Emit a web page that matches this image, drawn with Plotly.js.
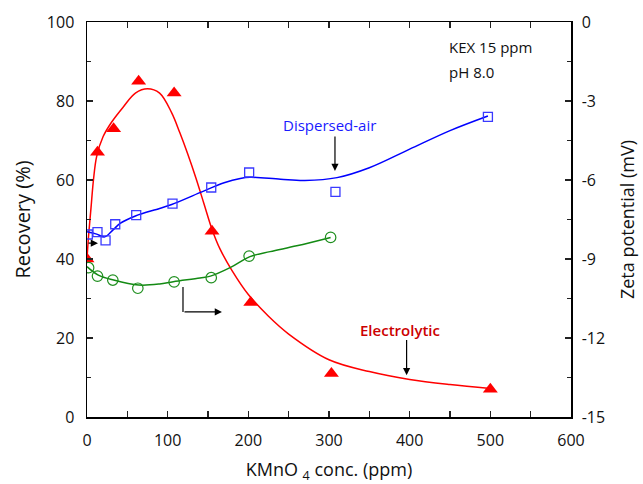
<!DOCTYPE html>
<html><head><meta charset="utf-8">
<script src="https://cdn.plot.ly/plotly-3.0.1.min.js"></script>
<style>html,body{margin:0;padding:0;background:#fff}#chart{width:643px;height:484px}</style>
</head><body><div id="chart"></div>
<script>
// Recovery (%) measured points
const elecX = [0, 13, 33, 64, 108, 155, 203, 303, 500];
const elecY = [40, 67, 73, 85, 82, 47, 29, 11, 7];
const dispX = [1, 13, 23, 35, 61, 106, 154, 201, 308, 497];
const dispY = [46.2, 46.8, 44.7, 48.8, 51.1, 54, 58.1, 61.9, 57, 76];
// Zeta potential (mV) measured points
const zetaX = [2, 13, 32, 63, 108, 154, 201, 302];
const zetaY = [-9.33, -9.65, -9.8, -10.11, -9.87, -9.71, -8.89, -8.18];
// fitted curves
const elecFitX = [0, 2, 5, 8, 12, 20, 30, 45, 60, 75, 90, 105, 115, 125, 135, 145, 155, 165, 180, 200, 225, 250, 300, 350, 400, 450, 500];
const elecFitY = [40, 46, 53, 60, 66, 71, 74.5, 78.5, 82, 83.1, 82, 77, 72, 66.5, 60.5, 54, 47.5, 42.5, 37, 31, 25.5, 21, 14.5, 11.5, 9.5, 8.2, 7.2];
const dispFitX = [0, 12, 22, 32, 41, 60, 90, 105, 140, 170, 190, 202, 240, 270, 310, 350, 400, 450, 497];
const dispFitY = [46.9, 46.3, 45.6, 47.3, 49, 50.9, 52.8, 53.8, 56.8, 59.3, 60.4, 60.7, 60.2, 59.9, 60.6, 63.1, 67.8, 72.5, 76.2];
const zetaFitX = [0, 14, 33, 64, 90, 107, 140, 153, 178, 202, 227, 260, 302];
const zetaFitY = [-9.29, -9.61, -9.8, -9.99, -9.95, -9.86, -9.72, -9.65, -9.32, -8.91, -8.72, -8.5, -8.18];
// axis ticks
const xTicks = [0, 100, 200, 300, 400, 500, 600];
const yTicks = [0, 20, 40, 60, 80, 100];
const y2Ticks = [0, -3, -6, -9, -12, -15];
const y2TickText = ['0', '-3', '-6', '-9', '-12', '-15'];

const FONT = 'Open Sans, sans-serif';
const traces = [
  {x: elecFitX, y: elecFitY, mode: 'lines', line: {color: '#ff0000', width: 1.5, shape: 'spline', smoothing: 1}, hoverinfo: 'skip'},
  {x: dispFitX, y: dispFitY, mode: 'lines', line: {color: '#0000ff', width: 1.5, shape: 'spline', smoothing: 1}, hoverinfo: 'skip'},
  {x: zetaFitX, y: zetaFitY, yaxis: 'y2', mode: 'lines', line: {color: '#138a13', width: 1.5, shape: 'spline', smoothing: 1}, hoverinfo: 'skip'},
  {x: elecX, y: elecY, mode: 'markers', marker: {symbol: 'triangle-up', size: 13, color: '#ff0000'}},
  {x: dispX, y: dispY, mode: 'markers', marker: {symbol: 'square-open', size: 9, color: '#3a3aff', line: {width: 1.3}}},
  {x: zetaX, y: zetaY, yaxis: 'y2', mode: 'markers', marker: {symbol: 'circle-open', size: 10.5, color: '#1f8f1f', line: {width: 1.2}}}
];

const axisCommon = {
  showgrid: false, zeroline: false, showline: true, linecolor: '#000', linewidth: 1.5,
  ticks: 'inside', ticklen: 6, tickwidth: 1.3, tickcolor: '#222',
  tickfont: {family: FONT, size: 16, color: '#111'}
};

const layout = {
  width: 643, height: 484,
  margin: {l: 87, r: 72, t: 22, b: 67},
  paper_bgcolor: '#fff', plot_bgcolor: '#fff',
  showlegend: false, hovermode: false,
  font: {family: FONT, color: '#111'},
  xaxis: Object.assign({}, axisCommon, {
    range: [0, 600], tickmode: 'array', tickvals: xTicks, mirror: 'ticks',
    minor: {dtick: 50, tick0: 0, ticks: 'inside', ticklen: 6, tickcolor: '#222'},
    ticklabelstandoff: 8,
    title: {text: 'KMnO <sub>4</sub> conc. (ppm)', font: {family: FONT, size: 18, color: '#111'}, standoff: 17}
  }),
  yaxis: Object.assign({}, axisCommon, {
    range: [0, 100], tickmode: 'array', tickvals: yTicks,
    minor: {dtick: 10, tick0: 0, ticks: 'inside', ticklen: 4, tickcolor: '#222'},
    ticklabelstandoff: 8,
    title: {text: 'Recovery (%)', font: {family: FONT, size: 20, color: '#111'}, standoff: 11}
  }),
  yaxis2: Object.assign({}, axisCommon, {
    overlaying: 'y', side: 'right', range: [-15, 0],
    tickmode: 'array', tickvals: y2Ticks, ticktext: y2TickText,
    minor: {tickmode: 'linear', dtick: 1.5, tick0: 0, ticks: 'inside', ticklen: 4, tickcolor: '#222'},
    ticklabelstandoff: 6,
    title: {text: 'Zeta potential (mV)', font: {family: FONT, size: 18, color: '#111'}, standoff: 17}
  }),
  annotations: [
    {x: 446, y: 93.7, xref: 'x', yref: 'y', text: 'KEX 15 ppm', showarrow: false, xanchor: 'left', font: {family: FONT, size: 15, color: '#111'}},
    {x: 446, y: 87.3, xref: 'x', yref: 'y', text: 'pH 8.0', showarrow: false, xanchor: 'left', font: {family: FONT, size: 15, color: '#111'}},
    {x: 301, y: 73.9, xref: 'x', yref: 'y', text: 'Dispersed-air', showarrow: false, font: {family: FONT, size: 15, color: '#1a1aff'}},
    {x: 388.6, y: 22, xref: 'x', yref: 'y', text: 'Electrolytic', showarrow: false, font: {family: FONT, size: 15, color: '#cc0000', weight: 600}},
    {x: 307.4, y: 62.3, ax: 307.4, ay: 71.4, xref: 'x', yref: 'y', axref: 'x', ayref: 'y', text: '', showarrow: true, arrowhead: 2, arrowsize: 1.2, arrowwidth: 1.2, arrowcolor: '#000'},
    {x: 396.2, y: 10.6, ax: 396.2, ay: 19.9, xref: 'x', yref: 'y', axref: 'x', ayref: 'y', text: '', showarrow: true, arrowhead: 2, arrowsize: 1.2, arrowwidth: 1.2, arrowcolor: '#000'},
    {x: 167.3, y: 26.6, ax: 119, ay: 26.6, xref: 'x', yref: 'y', axref: 'x', ayref: 'y', text: '', showarrow: true, arrowhead: 2, arrowsize: 1.2, arrowwidth: 1.2, arrowcolor: '#000'},
    {x: 13.6, y: 44, ax: 0, ay: 44, xref: 'x', yref: 'y', axref: 'x', ayref: 'y', text: '', showarrow: true, arrowhead: 2, arrowsize: 1.2, arrowwidth: 1.2, arrowcolor: '#000'}
  ],
  shapes: [
    {type: 'line', xref: 'x', yref: 'y', x0: 119, x1: 119, y0: 32.9, y1: 26.6, line: {color: '#000', width: 1.2}}
  ]
};

Plotly.newPlot('chart', traces, layout, {staticPlot: true, displayModeBar: false});
</script>
</body></html>
